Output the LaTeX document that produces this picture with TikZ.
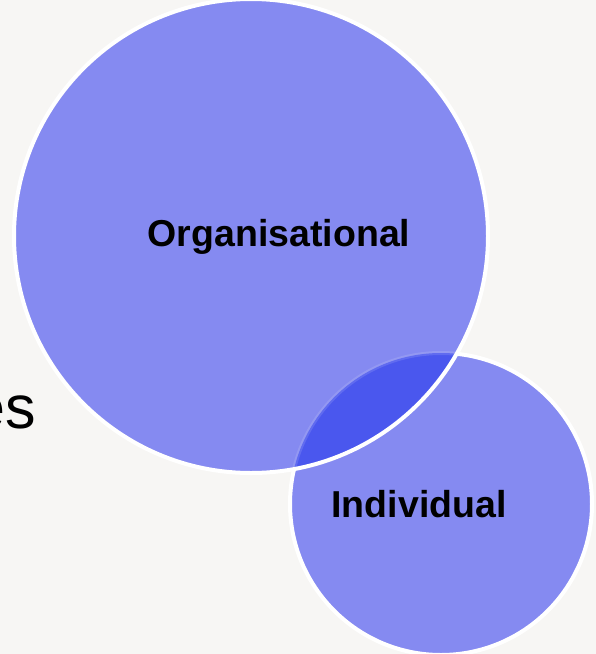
\documentclass[tikz,border=0pt]{standalone}
\usepackage{fontspec}
\setmainfont{Liberation Sans}
\definecolor{bg}{HTML}{F7F6F4}
\definecolor{circ}{HTML}{858AF1}
\definecolor{ovl}{HTML}{4A57EE}
\begin{document}
\begin{tikzpicture}[x=1pt,y=-1pt,
  bubble/.style={fill=circ},
  rim/.style={draw=white,line width=4pt},
  lbl/.style={font=\bfseries\fontsize{37.5}{40}\selectfont,text=black,inner sep=0pt}]
\useasboundingbox (0,0) rectangle (596,654);
\clip (0,0) rectangle (596,654);
\fill[bg] (0,0) rectangle (596,654);
\node[anchor=base east,inner sep=0pt,font=\fontsize{61}{64}\selectfont] (side) at (36,428) {es};
\coordinate (cbig) at (251,236);
\coordinate (csmall) at (441,504);
% small circle
\fill[bubble] (csmall) circle (151);
\draw[rim] (csmall) circle (151);
% big circle
\fill[bubble] (cbig) circle (237);
% overlap
\begin{scope}
  \clip (cbig) circle (237);
  \fill[ovl] (csmall) circle (151);
  \draw[white,opacity=0.12,line width=4pt] (csmall) circle (151);
\end{scope}
\draw[rim] (cbig) circle (237);
\node[lbl] (org) at (279,237) {Organisational};
\node[lbl] (ind) at (419,504) {Individual};
\end{tikzpicture}
\end{document}
